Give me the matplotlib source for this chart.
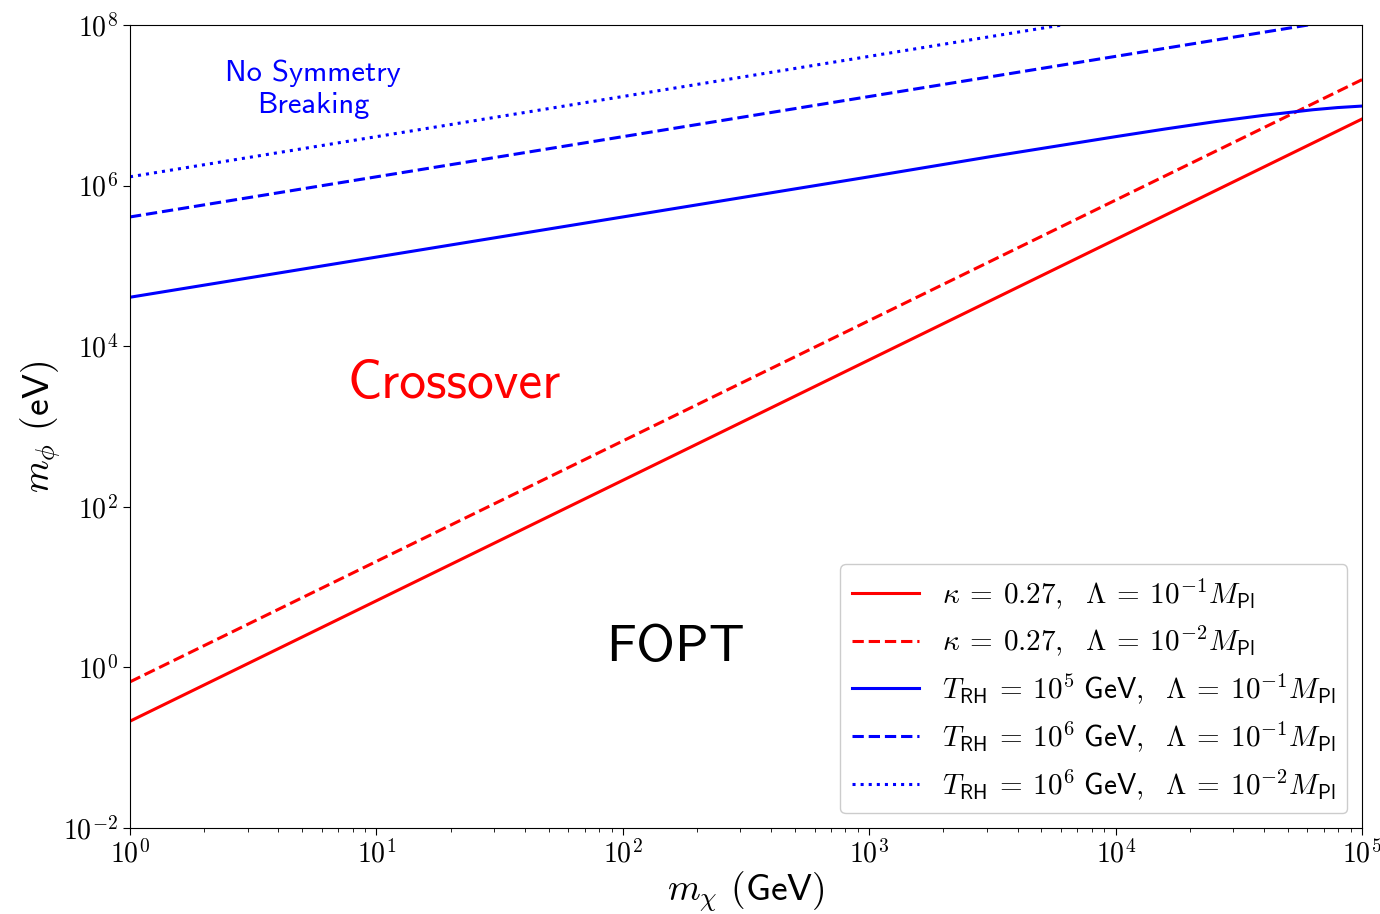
import numpy as np
import matplotlib
matplotlib.use("Agg")
import matplotlib.pyplot as plt
from matplotlib.ticker import FuncFormatter, NullLocator, LogLocator

plt.rcParams['mathtext.fontset'] = 'cm'

# x values (GeV) and log10 of m_phi (eV)
m_chi = [1e0, 1e1, 1e2, 1e3, 1e4, 1e5]
log_red_solid = [-0.67, 0.83, 2.33, 3.83, 5.33, 6.83]
log_red_dashed = [-0.18, 1.32, 2.82, 4.32, 5.82, 7.32]
log_blue_dashed = [5.61, 6.11, 6.61, 7.11, 7.61, 8.11]
log_blue_dotted = [6.11, 6.61, 7.11, 7.61, 8.11, 8.61]

# blue solid line bends over near the right edge
log_m_chi_curve = [0, 1, 2, 3, 3.5, 4.0, 4.2, 4.4, 4.6, 4.8, 4.9, 5.0]
log_blue_solid = [4.61, 5.11, 5.61, 6.11, 6.365, 6.61, 6.705, 6.795, 6.875, 6.945, 6.972, 6.991]

eq = r'\:=\:'
labels = [
    r'$\kappa' + eq + r'0.27,\ \ \Lambda' + eq + r'10^{-1} M_{\mathsf{Pl}}$',
    r'$\kappa' + eq + r'0.27,\ \ \Lambda' + eq + r'10^{-2} M_{\mathsf{Pl}}$',
    r'$T_{\mathsf{RH}}' + eq + r'10^5\ \mathsf{GeV},\ \ \Lambda' + eq + r'10^{-1} M_{\mathsf{Pl}}$',
    r'$T_{\mathsf{RH}}' + eq + r'10^6\ \mathsf{GeV},\ \ \Lambda' + eq + r'10^{-1} M_{\mathsf{Pl}}$',
    r'$T_{\mathsf{RH}}' + eq + r'10^6\ \mathsf{GeV},\ \ \Lambda' + eq + r'10^{-2} M_{\mathsf{Pl}}$',
]

fig = plt.figure(figsize=(13.8, 9.14), dpi=100)
ax = fig.add_axes([0.0942, 0.0941, 0.8928, 0.8785])

lw = 2.2
ax.plot(m_chi, 10**np.array(log_red_solid), color='red', linestyle='-', lw=lw, label=labels[0])
ax.plot(m_chi, 10**np.array(log_red_dashed), color='red', linestyle='--', lw=lw, label=labels[1])
ax.plot(10**np.array(log_m_chi_curve), 10**np.array(log_blue_solid), color='blue', linestyle='-', lw=lw, label=labels[2])
ax.plot(m_chi, 10**np.array(log_blue_dashed), color='blue', linestyle='--', lw=lw, label=labels[3])
ax.plot(m_chi, 10**np.array(log_blue_dotted), color='blue', linestyle=':', lw=lw, label=labels[4])

ax.set_xscale('log')
ax.set_yscale('log')
ax.set_xlim(1, 1e5)
ax.set_ylim(1e-2, 1e8)

ax.set_yticks([10.0**k for k in range(-2, 9, 2)])
ax.yaxis.set_minor_locator(NullLocator())
ax.xaxis.set_minor_locator(LogLocator(base=10, subs=np.arange(2, 10)))
fmt = FuncFormatter(lambda v, p: r'$10^{%d}$' % int(round(np.log10(v))))
ax.xaxis.set_major_formatter(fmt)
ax.yaxis.set_major_formatter(fmt)
ax.tick_params(axis='both', which='major', labelsize=20, length=5)
ax.tick_params(axis='both', which='minor', length=3)

ax.set_xlabel(r'$m_\chi$ $\mathsf{(GeV)}$', fontsize=27, labelpad=1)
ax.set_ylabel(r'$m_\phi$ $\mathsf{(eV)}$', fontsize=27, labelpad=0)

ax.text(5.53, 10**7.2, 'No Symmetry\nBreaking', color='blue', fontsize=22,
        family='cmss10', ha='center', va='center', linespacing=1.25)
ax.text(20.6, 10**3.52, 'Crossover', color='red', fontsize=38.5,
        family='cmss10', ha='center', va='center')
ax.text(164, 10**0.24, 'FOPT', color='black', fontsize=38,
        family='cmss10', ha='center', va='center')

ax.legend(loc='lower right', fontsize=21, handlelength=2.3, framealpha=1.0,
          borderaxespad=0.5, labelspacing=0.45)

fig.savefig('out.png', dpi=100)
